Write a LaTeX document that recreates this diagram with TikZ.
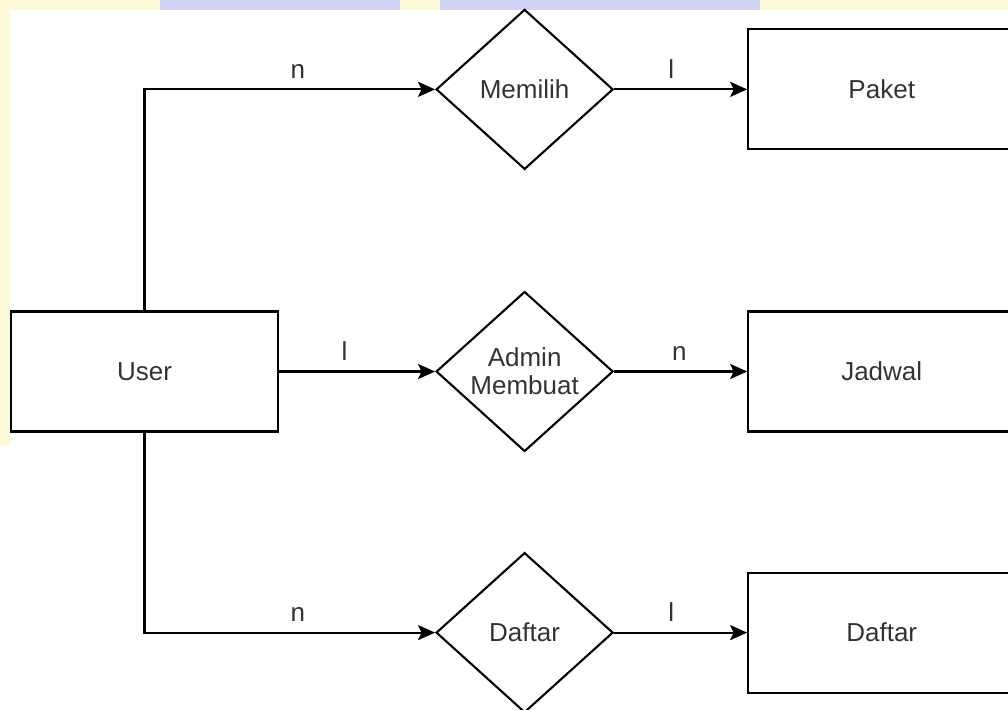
\documentclass[tikz,border=0pt]{standalone}
\usepackage{fontspec}
\setmainfont{Liberation Sans}
\usetikzlibrary{shapes.geometric, arrows.meta}
\usetikzlibrary{positioning}
\definecolor{wmyellow}{HTML}{FCF8D8}
\definecolor{wmviolet}{HTML}{D2D2F8}

\begin{document}
\begin{tikzpicture}[entity/.style={rectangle,draw=black,line width=1.2pt,minimum width=5.34cm,minimum height=2.4cm,text=black!80},
rel/.style={diamond,aspect=1.1,draw=black,line width=1.2pt,minimum width=3.54cm,minimum height=3.2cm,inner sep=0pt,align=center,text=black!80},
conn/.style={-{Stealth[length=0.34cm,width=0.3cm,inset=0.07cm]},line width=1.2pt},
card/.style={above=0.2cm,inner sep=0pt,text=black!80},font=\fontsize{14.8pt}{16pt}\selectfont]

% page and watermark strips
\useasboundingbox (0,0) rectangle (20.16,-14.18);
\fill[wmyellow] (0,0) rectangle (20.16,-0.2);
\fill[wmyellow] (0,0) rectangle (0.2,-8.9);
\fill[wmviolet] (3.2,0) rectangle (8.0,-0.2);
\fill[wmviolet] (8.8,0) rectangle (15.2,-0.2);

\node (user) [entity] at (2.89,-7.43) {User};
\node (admin) [rel, right=3.12cm of user] {Admin\\Membuat};
\node (jadwal) [entity, right=2.66cm of admin] {Jadwal};
\node (memilih) [rel, above=2.4cm of admin] {Memilih};
\node (paket) [entity, right=2.66cm of memilih] {Paket};
\node (daftarrel) [rel, below=1.98cm of admin] {Daftar};
\node (daftar) [entity, right=2.66cm of daftarrel] {Daftar};

\draw[conn] (user.north) |- node[card,pos=0.764] {n} (memilih.west);
\draw[conn] (user.east) -- node[card,pos=0.42] {l} (admin.west);
\draw[conn] (user.south) |- node[card,pos=0.764] {n} (daftarrel.west);
\draw[conn] (memilih.east) -- node[card,pos=0.43] {l} (paket.west);
\draw[conn] (admin.east) -- node[card,pos=0.49] {n} (jadwal.west);
\draw[conn] (daftarrel.east) -- node[card,pos=0.43] {l} (daftar.west);

\end{tikzpicture}
\end{document}
